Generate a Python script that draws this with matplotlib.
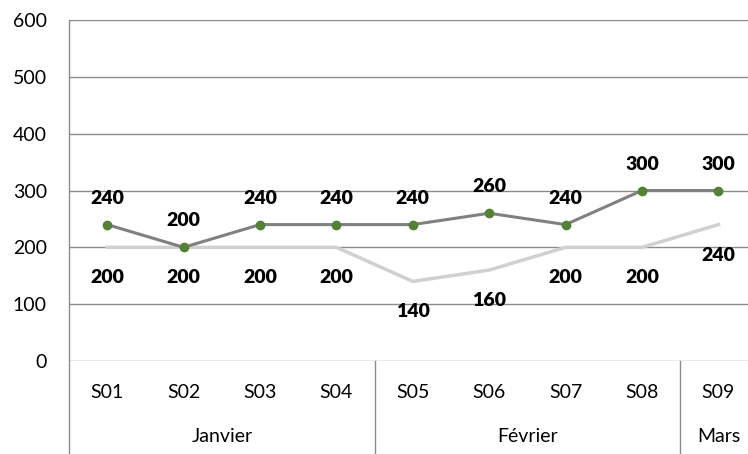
import matplotlib
matplotlib.use("Agg")
import numpy as np
from matplotlib import pyplot as plt

plt.rcParams['font.family'] = ['Lato', 'DejaVu Sans']

semaines = ['S01', 'S02', 'S03', 'S04', 'S05', 'S06', 'S07', 'S08', 'S09']
mois = ['Janvier', 'Février', 'Mars']
mois_nb = [4, 4, 1]
serie_haut = [240, 200, 240, 240, 240, 260, 240, 300, 300]
serie_bas = [200, 200, 200, 200, 140, 160, 200, 200, 240]
yticks = [0, 100, 200, 300, 400, 500, 600]

fig = plt.figure(figsize=(7.48, 4.54), dpi=100)
W, H = 748, 454
x0, ytop, yzero = 69, 20, 361
step = 76.4
ax = fig.add_axes([x0 / W, (H - yzero) / H, len(semaines) * step / W, (yzero - ytop) / H])

x = np.arange(len(semaines))
ax.plot(x, serie_bas, color='#d0d0d0', lw=2.5, zorder=2)
ax.plot(x, serie_haut, color='#808080', lw=2.2, marker='o', ms=6,
        mfc='#538135', mec='#538135', zorder=3)

for i, v in enumerate(serie_haut):
    ax.annotate(str(v), (i, v), xytext=(0, 19), textcoords='offset points',
                ha='center', va='center', fontsize=14, fontweight='heavy')
for i, v in enumerate(serie_bas):
    ax.annotate(str(v), (i, v), xytext=(0, -22), textcoords='offset points',
                ha='center', va='center', fontsize=14, fontweight='heavy')

ax.set_xlim(-0.5, len(semaines) - 0.5)
ax.set_ylim(0, 600)
ax.set_yticks(yticks)
ax.set_xticks([])
ax.tick_params(axis='y', length=0, labelsize=14, pad=16)
for s in ax.spines.values():
    s.set_visible(False)
ax.grid(axis='y', color='#8c8c8c', lw=1)
ax.set_axisbelow(True)

trans = ax.get_xaxis_transform()
# axe vertical gauche, prolongé sous les catégories
ax.plot([-0.5, -0.5], [1, -(H - yzero) / (yzero - ytop)], transform=trans,
        color='#8c8c8c', lw=1, clip_on=False)
fy = lambda px: -(px - yzero) / (yzero - ytop)
for i, s in enumerate(semaines):
    ax.text(i, fy(392), s, transform=trans, ha='center', va='center', fontsize=14)
pos = 0
for m, n in zip(mois, mois_nb):
    ax.text(pos + (n - 1) / 2, fy(437), m, transform=trans, ha='center', va='center', fontsize=14)
    pos += n
    ax.plot([pos - 0.5, pos - 0.5], [0, fy(H)], transform=trans,
            color='#8c8c8c', lw=1, clip_on=False)

fig.savefig('out.png', dpi=100)
